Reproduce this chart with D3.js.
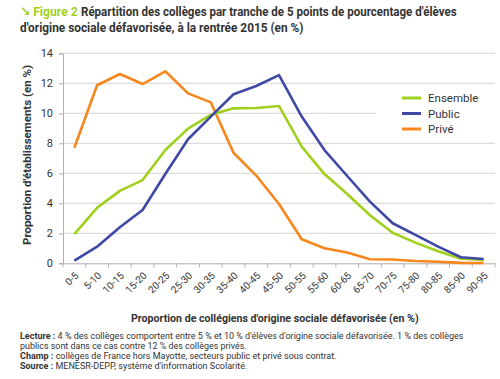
<!DOCTYPE html>
<html><head><meta charset="utf-8">
<script src="https://cdn.jsdelivr.net/npm/d3@7"></script>
<style>body{margin:0;background:#fff}svg{display:block;font-family:Roboto,"DejaVu Sans",sans-serif}</style>
</head><body><svg id="c" width="500" height="379"></svg>
<script>
const categories = ["0-5","5-10","10-15","15-20","20-25","25-30","30-35","35-40","40-45","45-50","50-55","55-60","60-65","65-70","70-75","75-80","80-85","85-90","90-95"];
const ensemble = [1.95,3.7,4.83,5.55,7.55,8.98,9.9,10.33,10.35,10.49,7.78,5.95,4.62,3.2,2.04,1.38,0.8,0.3,0.22];
const publicS = [0.18,1.11,2.4,3.55,5.95,8.27,9.78,11.27,11.82,12.55,9.78,7.55,5.82,4.11,2.67,1.89,1.11,0.4,0.29];
const prive = [7.7,11.87,12.62,11.95,12.8,11.33,10.73,7.37,5.85,3.95,1.6,1.0,0.72,0.27,0.25,0.15,0.1,0.03,0.02];
const yTicks = [0,2,4,6,8,10,12,14];
const seriesNames = ["Ensemble","Public","Privé"];
const colors = ["#9fd01c","#3f48a4","#f7861d"];

const svg = d3.select("#c");
const x = d3.scaleBand().domain(categories).range([63,495]);
const y = d3.scaleLinear().domain([0,14]).range([263.3,53.3]);

// fit a text horizontally to a target width by scaling the group
function fitText(g, target, anchorX){
  const w = g.node().getBBox().width;
  const s = Math.min(1, target / w);
  g.attr("transform", `translate(${anchorX},0) scale(${s},1) translate(${-anchorX},0)`);
}

// gridlines
svg.append("g").selectAll("line").data(yTicks.filter(d=>d>0)).join("line")
  .attr("x1",63).attr("x2",495).attr("y1",d=>y(d)).attr("y2",d=>y(d))
  .attr("stroke","#d4d4d4").attr("stroke-width",1);

// y axis
const ya = svg.append("g").attr("transform","translate(63,0)")
  .call(d3.axisLeft(y).tickValues(yTicks).tickSize(4).tickPadding(6));
ya.select(".domain").attr("stroke","#b0b0b0");
ya.selectAll(".tick line").attr("stroke","#b0b0b0");
ya.selectAll("text").attr("font-size",11).attr("fill","#333").attr("font-family","Roboto");

// x axis
const xa = svg.append("g").attr("transform",`translate(0,${y(0)})`)
  .call(d3.axisBottom(x).tickSize(0).tickFormat(""));
xa.select(".domain").attr("stroke","#b0b0b0");
svg.append("g").selectAll("line").data(categories.concat(["_end"])).join("line")
  .attr("x1",(d,i)=>63+i*x.step()).attr("x2",(d,i)=>63+i*x.step())
  .attr("y1",y(0)).attr("y2",y(0)+4).attr("stroke","#b0b0b0");
svg.append("g").selectAll("text").data(categories).join("text")
  .attr("transform",d=>`translate(${x(d)+x.bandwidth()/2+3},${y(0)+11}) rotate(-45)`)
  .attr("text-anchor","end").attr("dominant-baseline","middle")
  .attr("font-size",10).attr("fill","#333").text(d=>d);

// legend background box (hides gridline)
svg.append("rect").attr("x",376).attr("y",87).attr("width",119).attr("height",52).attr("fill","#fff");

// lines
const allSeries = [ensemble, publicS, prive];
const line = d3.line().x((d,i)=>x(categories[i])+x.bandwidth()/2).y(d=>y(d));
[prive, ensemble, publicS].forEach(s=>{
  const idx = allSeries.indexOf(s);
  svg.append("path").datum(s).attr("d",line).attr("fill","none")
    .attr("stroke",colors[idx]).attr("stroke-width",2.6).attr("stroke-linejoin","round");
});

// legend
const lg = svg.append("g").selectAll("g").data(seriesNames).join("g")
  .attr("transform",(d,i)=>`translate(402,${98+i*15.5})`);
lg.append("line").attr("x1",0).attr("x2",19).attr("stroke",(d,i)=>colors[i]).attr("stroke-width",3);
lg.append("text").attr("x",26).attr("dy","0.36em").attr("font-size",11.5).attr("fill","#333").text(d=>d);

// axis titles
svg.append("text").attr("transform","translate(31,155) rotate(-90)").attr("text-anchor","middle")
  .attr("font-size",11.5).attr("font-weight","bold").attr("fill","#333")
  .attr("textLength",180).attr("lengthAdjust","spacingAndGlyphs")
  .text("Proportion d'établissements (en %)");
const xt = svg.append("g");
xt.append("text").attr("x",131).attr("y",322)
  .attr("font-size",11.5).attr("font-weight","bold").attr("fill","#333")
  .text("Proportion de collégiens d'origine sociale défavorisée (en %)");
fitText(xt, 288, 131);

// title
const g1 = svg.append("g");
g1.append("text").attr("x",20).attr("y",16.5).attr("font-size",13.5).attr("font-weight","bold").attr("fill","#9fd01c").text("↘ Figure 2");
fitText(g1, 58, 20);
const g2 = svg.append("g");
g2.append("text").attr("x",81).attr("y",16.5).attr("font-size",13.5).attr("font-weight","bold").attr("fill","#333")
  .text("Répartition des collèges par tranche de 5 points de pourcentage d'élèves");
fitText(g2, 376, 81);
const g3 = svg.append("g");
g3.append("text").attr("x",20).attr("y",32).attr("font-size",13.5).attr("font-weight","bold").attr("fill","#333")
  .text("d'origine sociale défavorisée, à la rentrée 2015 (en %)");
fitText(g3, 284, 20);

// footer
const foot = [
  ["Lecture : ","4 % des collèges comportent entre 5 % et 10 % d'élèves d'origine sociale défavorisée. 1 % des collèges",453],
  ["","publics sont dans ce cas contre 12 % des collèges privés.",227],
  ["Champ : ","collèges de France hors Mayotte, secteurs public et privé sous contrat.",320],
  ["Source : ","MENESR-DEPP, système d'information Scolarité.",233]
];
const fy = [339,349,359,369];
foot.forEach((f,i)=>{
  const g = svg.append("g");
  const t = g.append("text").attr("x",20).attr("y",fy[i]).attr("font-size",9).attr("fill","#333");
  if(f[0]) t.append("tspan").attr("font-weight","bold").text(f[0]);
  t.append("tspan").text(f[1]);
  fitText(g, f[2], 20);
});
</script></body></html>
